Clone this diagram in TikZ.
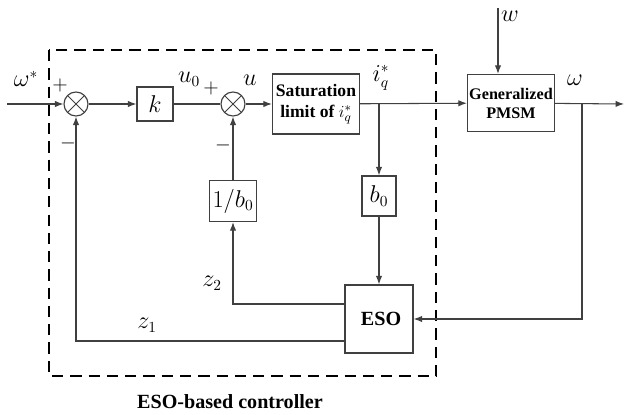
\documentclass[tikz,border=0pt]{standalone}
\usepackage{amsmath}
\usepackage{fontspec}
\setmainfont{Liberation Serif}
\usepackage{tikz}
\usetikzlibrary{arrows.meta, positioning, calc}

\begin{document}
\begin{tikzpicture}[
  x=0.025cm, y=-0.025cm,
  >={Latex[length=6pt,width=4.5pt]},
  every node/.style={font=\fontsize{11.5}{13}\selectfont},
  % Node styles
  blk/.style     = {rectangle, draw=black!75, line width=0.9pt, fill=white,
                    align=center, inner sep=1pt},
  txtblk/.style  = {blk, font=\bfseries\fontsize{11.5}{13.5}\selectfont},
  sumnode/.style = {circle, draw=black!75, line width=0.8pt, fill=white,
                    minimum size=0.6cm, inner sep=0pt,
                    path picture={\draw[black!75, line width=0.7pt]
                      (path picture bounding box.north west) -- (path picture bounding box.south east)
                      (path picture bounding box.north east) -- (path picture bounding box.south west);}},
  lbl/.style     = {font=\fontsize{16}{19}\selectfont},
  sgn/.style     = {font=\fontsize{14}{16}\selectfont},
  % Arrow styles
  sig/.style     = {->, line width=0.75pt, draw=black!75},
  wire/.style    = {line width=0.75pt, draw=black!75},
  frame/.style   = {line width=1.8pt, dash pattern=on 8pt off 5pt}
]
\useasboundingbox (0,0) rectangle (624,414);

% =========================== CONTROLLER FRAME ===========================
\draw[frame] (49,50) rectangle (436,376);
\node[font=\bfseries\fontsize{14.3}{16}\selectfont] (cap) at (230,402) {ESO-based controller};

% =========================== FORWARD PATH ===========================
\coordinate (in)   at (7,104);
\coordinate (out)  at (624,104);
\coordinate (wtop) at (498,8);
\coordinate (fb)   at (582,104);

\node[sumnode] (S1)    at (76,104)  {};
\node[blk, minimum width=0.9cm, minimum height=0.85cm]
               (K)     at (155,104) {\fontsize{17}{19}\selectfont$k$};
\node[sumnode] (S2)    at (233,104) {};
\node[txtblk, minimum width=2.175cm, minimum height=1.5cm,
      font=\bfseries\fontsize{12.5}{15}\selectfont]
               (Sat)   at (316,104) {Saturation\\limit of $i_q^{*}$};
\node[txtblk, minimum width=2.175cm, minimum height=1.425cm]
               (Plant) at (511,103) {Generalized\\PMSM};

\draw[sig]  (in)  -- (S1);
\draw[sig]  (S1)  -- (K);
\draw[wire] (K)   -- (S2);
\draw[sig]  (S2)  -- (Sat);
\draw[sig]  (Sat) -- (Plant);
\draw[sig]  (Plant) -- (out);
\draw[sig]  (wtop) -- (wtop |- Plant.north);

% =========================== ESO LOOP ===========================
\node[blk, minimum width=0.85cm, minimum height=1.0cm]
               (B0)   at (379,196) {\fontsize{16}{19}\selectfont$b_0$};
\node[blk, minimum width=1.175cm, minimum height=1.025cm]
               (Binv) at (233,201) {\fontsize{16}{19}\selectfont$1/b_0$};
\node[blk, minimum width=1.7cm, minimum height=1.7cm,
      font=\bfseries\fontsize{14.3}{16}\selectfont]
               (ESO)  at (379,319) {\hspace*{3pt}ESO};

\draw[sig] (B0 |- Sat.east) -- (B0);
\draw[sig] (B0)  -- (ESO);
\draw[sig] (fb)  |- (ESO.east);
\draw[sig] ($(ESO.west)+(0,-15)$) -| (Binv);
\draw[sig] (Binv) -- (S2);
\draw[sig] ($(ESO.west)+(0,22)$)  -| (S1);

% =========================== LABELS ===========================
\node[lbl] (lw)   at (26,79)   {$\omega^{*}$};
\node[sgn] (p1)   at (60,85)   {$+$};
\node[sgn] (m1)   at (68,143)  {$-$};
\node[lbl] (lu0)  at (189,79)  {$u_0$};
\node[sgn] (p2)   at (211,88)  {$+$};
\node[lbl] (lu)   at (250,80)  {$u$};
\node[sgn] (m2)   at (223,145) {$-$};
\node[lbl] (liq)  at (381,78)  {$i_q^{*}$};
\node[lbl] (lww)  at (510,16)  {$w$};
\node[lbl] (lom)  at (575,80)  {$\omega$};
\node[lbl] (lz2)  at (212,283) {$z_2$};
\node[lbl] (lz1)  at (147,325) {$z_1$};

\end{tikzpicture}
\end{document}
